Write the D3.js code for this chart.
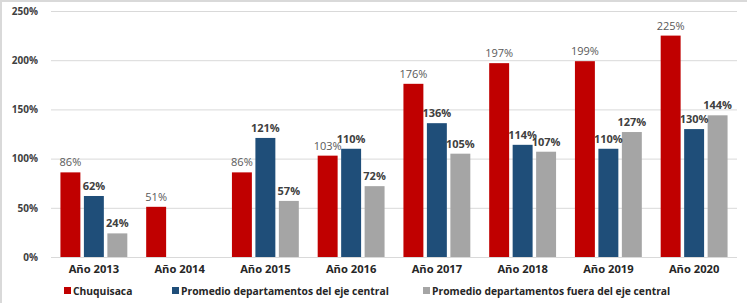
<!DOCTYPE html>
<html><head><meta charset="utf-8">
<script src="https://cdn.jsdelivr.net/npm/d3@7"></script>
<style>body{margin:0;background:#fff}svg{display:block;font-family:"Open Sans",sans-serif}</style>
</head><body><svg id="c" width="747" height="303"></svg>
<script>
const categories = ["Año 2013","Año 2014","Año 2015","Año 2016","Año 2017","Año 2018","Año 2019","Año 2020"];
const seriesNames = ["Chuquisaca","Promedio departamentos del eje central","Promedio departamentos fuera del eje central"];
const chuquisaca = [86,51,86,103,176,197,199,225];
const ejeCentral = [62,null,121,110,136,114,110,130];
const fueraEje = [24,null,57,72,105,107,127,144];
const yTicks = [0,50,100,150,200,250];
const colors = ["#C00000","#1F4E79","#A5A5A5"];

const svg = d3.select("#c");
const W=747,H=303;
svg.append("rect").attr("width",W).attr("height",H).attr("fill","#fff");
svg.append("line").attr("x1",0).attr("x2",W).attr("y1",1).attr("y2",1).attr("stroke","#d9d9d9").attr("stroke-width",2);
svg.append("line").attr("x1",1).attr("x2",1).attr("y1",0).attr("y2",H).attr("stroke","#d9d9d9").attr("stroke-width",2);

const x0 = d3.scaleBand().domain(categories).range([51,737]).paddingInner(0.22).paddingOuter(0.11);
const x1 = d3.scaleBand().domain([0,1,2]).range([0,x0.bandwidth()]).paddingInner(0.15);
const y = d3.scaleLinear().domain([0,250]).range([257,11]);

svg.append("g").selectAll("line").data(yTicks).join("line")
  .attr("x1",51).attr("x2",737).attr("y1",d=>y(d)+0.5).attr("y2",d=>y(d)+0.5)
  .attr("stroke","#d9d9d9").attr("stroke-width",1);

const yAxis = d3.axisLeft(y).tickValues(yTicks).tickFormat(d=>d+"%").tickSize(0).tickPadding(0);
const ga = svg.append("g").attr("transform","translate(38,0)").call(yAxis);
ga.select(".domain").remove();
ga.selectAll("text").attr("font-size",10).attr("font-weight","bold").attr("fill","#404040").attr("font-family","Open Sans");

const xAxis = d3.axisBottom(x0).tickSize(0).tickPadding(0);
const gx = svg.append("g").attr("transform","translate(0,265)").call(xAxis);
gx.select(".domain").remove();
gx.selectAll("text").attr("font-size",11.2).attr("font-weight","bold").attr("fill","#262626").attr("font-family","Open Sans");

const series = [chuquisaca, ejeCentral, fueraEje];
const data = [];
categories.forEach((c,i)=>series.forEach((s,j)=>{ if(s[i]!=null) data.push({c,j,v:s[i]}); }));

svg.append("g").selectAll("rect").data(data).join("rect")
  .attr("x",d=>x0(d.c)+x1(d.j)).attr("width",x1.bandwidth())
  .attr("y",d=>y(d.v)).attr("height",d=>y(0)-y(d.v))
  .attr("fill",d=>colors[d.j]);

svg.append("g").selectAll("text").data(data).join("text")
  .attr("x",d=>x0(d.c)+x1(d.j)+x1.bandwidth()/2)
  .attr("y",d=>y(d.v)-6)
  .attr("text-anchor","middle")
  .attr("font-size",11)
  .attr("font-weight",d=>d.j===0?"normal":"bold")
  .attr("fill",d=>d.j===0?"#595959":"#404040")
  .text(d=>d.v+"%");

const legX = [64,172,423];
const lg = svg.append("g").selectAll("g").data(seriesNames).join("g")
  .attr("transform",(d,i)=>`translate(${legX[i]},287)`);
lg.append("rect").attr("width",7).attr("height",7).attr("fill",(d,i)=>colors[i]);
lg.append("text").attr("x",9).attr("y",7.5).attr("font-size",10.3).attr("font-weight","bold")
  .attr("fill","#262626").text(d=>d);
</script></body></html>
